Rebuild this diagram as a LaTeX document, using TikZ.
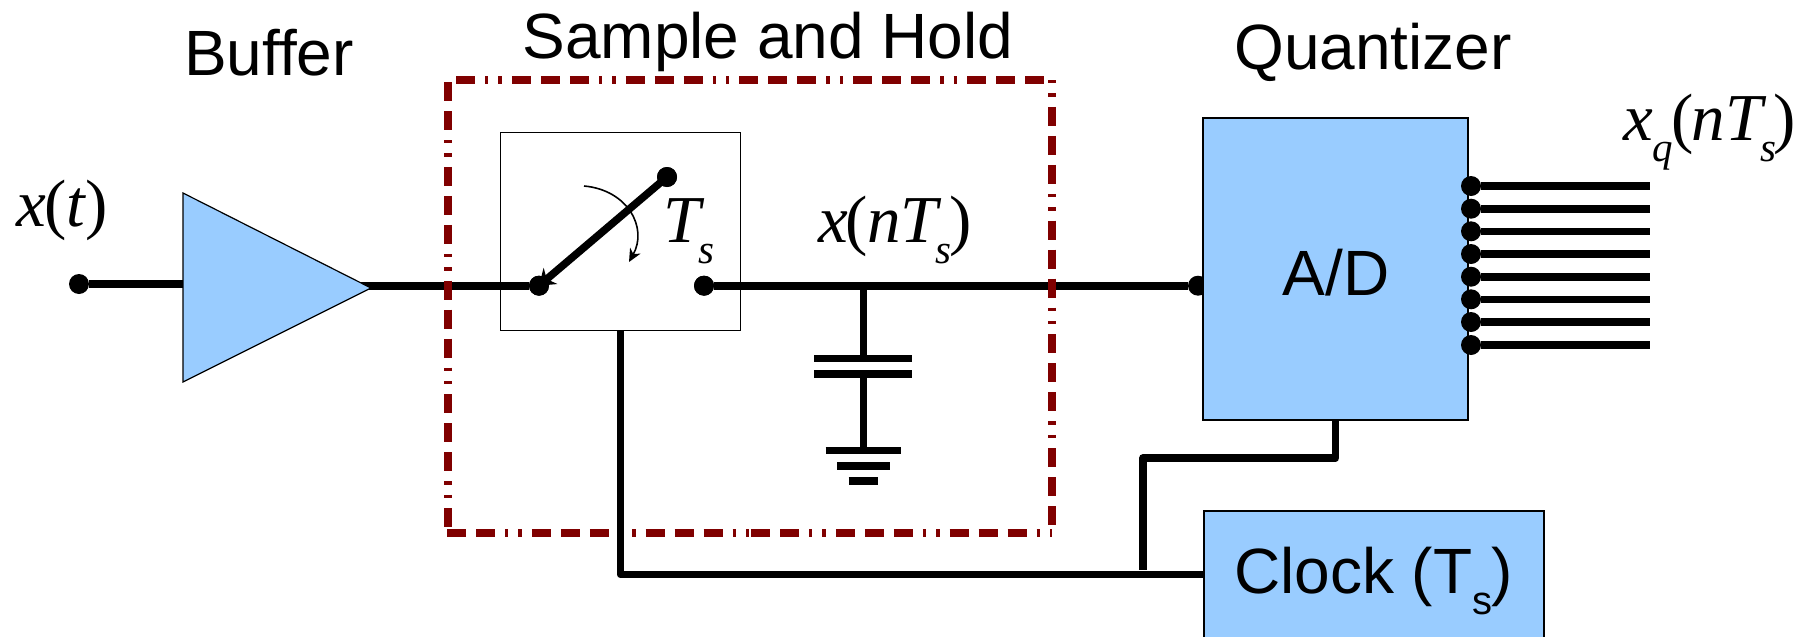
\documentclass[tikz,border=0pt]{standalone}
\usepackage{fontspec}
\setmainfont{Liberation Serif}
\setsansfont{Liberation Sans}
\usepackage{xcolor}
\usetikzlibrary{arrows.meta}
\definecolor{blockblue}{HTML}{99CCFF}
\definecolor{holdred}{HTML}{800000}
\newcommand{\lowsub}[1]{\kern-6pt\raisebox{-21pt}{\fontsize{41}{41}\selectfont\textit{#1}}}
\newcommand{\sanssub}[1]{\raisebox{-21pt}{\fontsize{40}{40}\selectfont #1}}

\begin{document}
\begin{tikzpicture}[%
  x=1pt, y=-1pt,
  wire/.style={line width=7.6pt, line join=round},
  pin/.style={circle, fill=black, inner sep=0pt, minimum size=20pt},
  holdline/.style={holdred, line width=7.4pt,
    dash pattern=on 19pt off 10pt on 19pt off 10pt on 19pt off 10pt on 3.4pt off 10pt on 3.4pt off 10pt},
  blueblock/.style={draw=black, fill=blockblue, line width=1.2pt, inner sep=0pt},
  plainblock/.style={draw=black, line width=1.5pt, inner sep=0pt},
  title/.style={anchor=base, inner sep=0pt, font=\sffamily\fontsize{64}{64}\selectfont},
  signal/.style={anchor=base west, inner sep=0pt, font=\fontsize{67}{67}\selectfont}]
  \clip (0,0) rectangle (1808,637);
  \coordinate (bufTop) at (183,193);
  \coordinate (bufBot) at (183,382);
  \coordinate (bufTip) at (371,288);
  \coordinate (bufIn) at (183,284);
  \coordinate (bufOut) at (360,285.7);
  \coordinate (holdNW) at (456,80);
  \coordinate (holdNE) at (1052,80);
  \coordinate (holdLT) at (448,82);
  \coordinate (holdLB) at (448,533);
  \coordinate (holdSW) at (447,533);
  \coordinate (holdSM) at (751,533);
  \coordinate (holdSE) at (1052,533);
  \node[pin] (xin) at (79,284) {};
  \node[pin] (adcIn) at (1198,285.7) {};
  \node[pin] (swIn) at (539,285.7) {};
  \node[pin] (swOut) at (704,285.7) {};
  \node[pin] (swArm) at (667,177) {};
  \coordinate (capTap) at (863.4,285.7);
  \coordinate (capTopPlate) at (863.4,358.5);
  \coordinate (capBotPlate) at (863.4,374);
  \coordinate (gndTop) at (863.4,450);
  \draw[wire] (xin) -- (bufIn);
  \draw[wire] (bufOut) -- (swIn);
  \draw[wire] (swOut) -- (adcIn);
  \draw[holdline, dash phase=58pt] (holdNW) -- (holdNE);
  \draw[holdline, dash phase=87pt] (holdNE) -- (holdSE);
  \draw[holdline, dash phase=29pt] (holdLT) -- (holdLB);
  \draw[holdline, dash phase=29pt] (holdSW) -- (holdSM);
  \draw[holdline, dash phase=29pt] (holdSM) -- (holdSE);
  \draw[blueblock] (bufTop) -- (bufBot) -- (bufTip) -- cycle;
  \node[plainblock, minimum width=240pt, minimum height=198pt] (switch) at (620.5,231.7) {};
  \node[pin] at (swIn) {};
  \node[pin] at (swOut) {};
  \node[pin] at (swArm) {};
  \draw[line width=7.6pt, -{Stealth[length=15pt,width=21pt]}] (swArm.center) -- (swIn.center);
  \coordinate (swingA) at (584,186);
  \coordinate (swingB) at (629,262);
  \draw[line width=1.6pt, -{Stealth[length=13pt,width=12pt,inset=4pt]}] (swingA) .. controls (628,190) and (648,228) .. (swingB);
  \draw[wire] (capTap) -- (capTopPlate);
  \draw[wire] (capBotPlate) -- (gndTop);
  \coordinate (plateAl) at (814,358.5);
  \coordinate (plateAr) at (912,358.5);
  \coordinate (plateBl) at (814,374);
  \coordinate (plateBr) at (912,374);
  \coordinate (gndAl) at (825.6,450.3);
  \coordinate (gndAr) at (901,450.3);
  \coordinate (gndBl) at (837,466);
  \coordinate (gndBr) at (890,466);
  \coordinate (gndCl) at (848.6,481);
  \coordinate (gndCr) at (878,481);
  \draw[wire] (plateAl) -- (plateAr);
  \draw[wire] (plateBl) -- (plateBr);
  \draw[wire] (gndAl) -- (gndAr);
  \draw[wire] (gndBl) -- (gndBr);
  \draw[wire] (gndCl) -- (gndCr);
  \node[blueblock, minimum width=265pt, minimum height=302pt] (adc) at (1335.5,269) {};
  \node[blueblock, minimum width=340pt, minimum height=160pt] (clock) at (1374,591) {};
  \coordinate (clkTurn) at (620.5,574.5);
  \coordinate (adcTurnA) at (1335.5,458);
  \coordinate (adcTurnB) at (1143,458);
  \coordinate (adcDrop) at (1143,569.5);
  \draw[wire] (switch.south) -- (clkTurn) -- (clkTurn -| clock.west);
  \draw[wire] (adc.south) -- (adcTurnA) -- (adcTurnB) -- (adcDrop);
  \foreach \bit/\ypos in {0/186,1/208.7,2/231.3,3/254,4/276.7,5/299.3,6/322,7/345} {
    \node[pin] (bit\bit) at (1471,\ypos) {};
    \coordinate (out\bit) at (1650,\ypos);
    \draw[wire] (bit\bit) -- (out\bit);
  }
  \node[title] (buffer) at (269,75) {Buffer};
  \node[title] (hold) at (768,58) {Sample and Hold};
  \node[title] (quant) at (1373,69) {Quantizer};
  \node[title] (adcText) at (1336,295) {A/D};
  \node[title, anchor=base west] (clockText) at (1234,593) {Clock (T\sanssub{s}\kern-1pt)};
  \node[signal] (xt) at (16,226) {\textit{x}\kern-1pt(\kern-1pt\textit{t}\kern-1pt)};
  \node[signal] (ts) at (663,242) {\textit{T}\lowsub{s}};
  \node[signal] (xnts) at (818,242) {\textit{x}\kern-2pt(\kern-1pt\textit{nT}\lowsub{s}\kern-2pt)};
  \node[signal] (xq) at (1623,140) {\textit{x}\raisebox{-21pt}{\fontsize{41}{41}\selectfont\textit{q}}\kern-2pt(\kern-2pt\textit{nT}\lowsub{s}\kern-3pt)};
\end{tikzpicture}
\end{document}
